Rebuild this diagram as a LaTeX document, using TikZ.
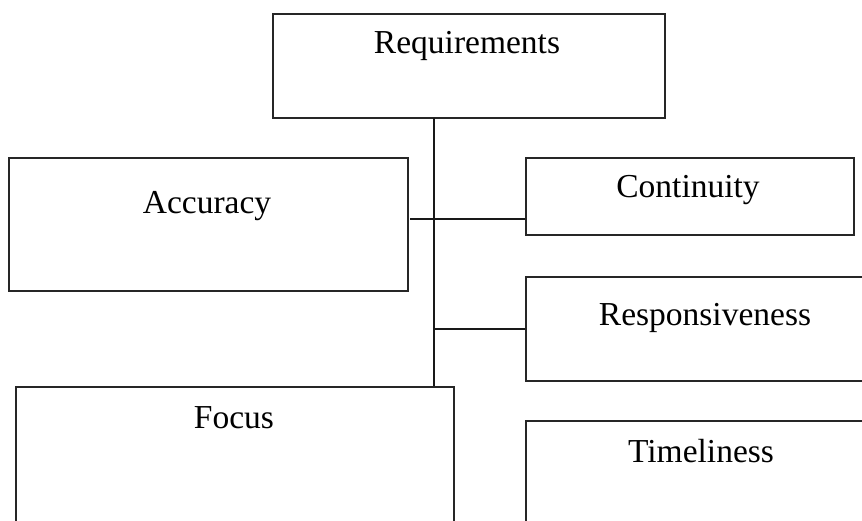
\documentclass[tikz,border=0pt]{standalone}
\usepackage{fontspec}
\setmainfont{Liberation Serif}
\begin{document}
\begin{tikzpicture}[x=1pt,y=-1pt,
  box/.style={draw=black!85,line width=1.2pt,rectangle,inner sep=0pt},
  lbl/.style={anchor=base,inner sep=0pt,font=\fontsize{33.5}{40}\selectfont},
  conn/.style={draw=black!90,line width=1.2pt}]
\useasboundingbox (0,0) rectangle (862,521);
% boxes
\node[box,minimum width=392pt,minimum height=104pt] (req) at (469,66) {};
\node[box,minimum width=399pt,minimum height=133pt] (acc) at (208.5,224.5) {};
\node[box,minimum width=328pt,minimum height=77pt] (cont) at (690,196.5) {};
\node[box,minimum width=354pt,minimum height=104pt] (resp) at (703,329) {};
\node[box,minimum width=438pt,minimum height=160pt] (focus) at (235,467) {};
\node[box,minimum width=354pt,minimum height=130pt] (time) at (703,486) {};
% labels
\node[lbl] (reqT) at (467,54) {Requirements};
\node[lbl] (accT) at (207,214) {Accuracy};
\node[lbl] (contT) at (688,198) {Continuity};
\node[lbl] (respT) at (705,326) {Responsiveness};
\node[lbl] (focusT) at (234,428) {Focus};
\node[lbl] (timeT) at (701,462) {Timeliness};
% connectors
\coordinate (trunk) at (434,118);
\coordinate (h1) at (410,219);
\draw[conn] (trunk) -- (trunk |- focus.north);
\draw[conn] (h1) -- (h1 -| cont.west);
\draw[conn] (trunk |- resp.west) -- (resp.west);
\end{tikzpicture}
\end{document}
